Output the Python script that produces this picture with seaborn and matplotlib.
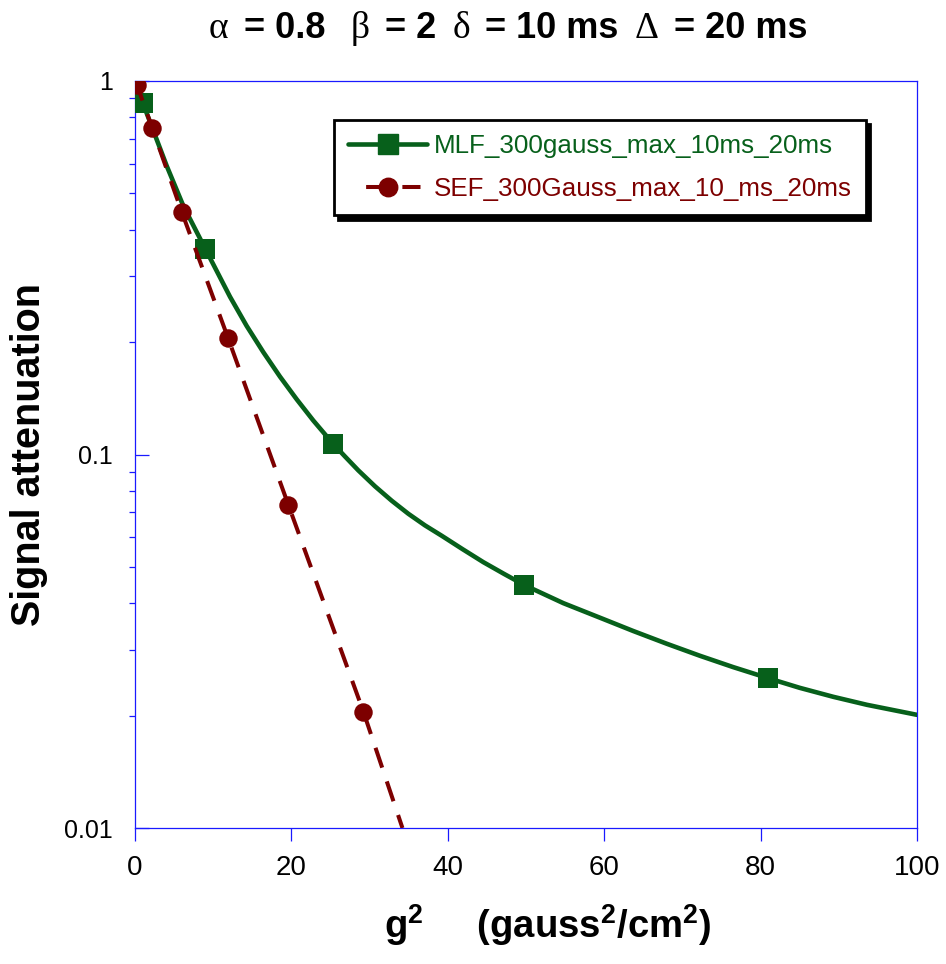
import matplotlib
matplotlib.use("Agg")
import matplotlib.pyplot as plt
import seaborn as sns
import pandas as pd
from matplotlib.lines import Line2D
from matplotlib.ticker import FixedLocator, FixedFormatter, LogLocator, NullFormatter
from matplotlib.offsetbox import TextArea, HPacker, AnchoredOffsetbox

# Mittag-Leffler (MLF) attenuation curve, sampled along g^2
mlf_curve_g2 = [0, 1, 4.05, 6.18, 9, 12.15, 14.28, 16.41, 18.54, 20.68, 22.8,
                25.3, 26.85, 28.55, 30.69, 32.83, 34.95, 37.08, 39.22, 41.88,
                44.54, 47.19, 49.8, 54.77, 59.89, 63.72, 68.0, 72.25, 76.5,
                81.0, 85.0, 89.3, 93.6, 100]
mlf_curve_val = [1.0, 0.873, 0.5928, 0.4630, 0.355, 0.2644, 0.2209, 0.1879,
                 0.1616, 0.1405, 0.1233, 0.1070, 0.0988, 0.0907, 0.0822,
                 0.0752, 0.0694, 0.0646, 0.0606, 0.0558, 0.0515, 0.0479,
                 0.0447, 0.0400, 0.03626, 0.03368, 0.03114, 0.02891, 0.02696,
                 0.02517, 0.02373, 0.02245, 0.02137, 0.02009]
# MLF marked points
mlf_point_g2 = [1, 9, 25.3, 49.8, 81]
mlf_point_val = [0.873, 0.355, 0.1070, 0.0447, 0.02517]

# Stretched-exponential (SEF) attenuation curve
sef_curve_g2 = [0, 0.26, 2.2, 6.0, 11.9, 19.6, 29.2, 34.2]
sef_curve_val = [1.0, 0.976, 0.748, 0.445, 0.205, 0.0734, 0.0205, 0.01]
# SEF marked points
sef_point_g2 = [0.26, 2.2, 6.0, 11.9, 19.6, 29.2]
sef_point_val = [0.976, 0.748, 0.445, 0.205, 0.0734, 0.0205]

series_labels = ["MLF_300gauss_max_10ms_20ms", "SEF_300Gauss_max_10_ms_20ms"]
x_ticks = [0, 20, 40, 60, 80, 100]
y_ticks = [0.01, 0.1, 1]
y_tick_labels = ["0.01", "0.1", "1"]

GREEN = "#07601b"
MAROON = "#7d0000"
BLUE = "#1a1aff"

sns.set_theme(style="white")
plt.rcParams["font.family"] = ["Liberation Sans", "DejaVu Sans"]
plt.rcParams["mathtext.fontset"] = "custom"
plt.rcParams["mathtext.rm"] = "Liberation Sans"
plt.rcParams["mathtext.bf"] = "Liberation Sans:bold"

fig = plt.figure(figsize=(9.46, 9.64), dpi=100)
ax = fig.add_axes([135 / 946, 1 - 828 / 964, (917 - 135) / 946, (828 - 81) / 964])

mlf_df = pd.DataFrame({"g2": mlf_curve_g2, "S": mlf_curve_val})
sef_df = pd.DataFrame({"g2": sef_curve_g2, "S": sef_curve_val})
mlf_pts = pd.DataFrame({"g2": mlf_point_g2, "S": mlf_point_val})
sef_pts = pd.DataFrame({"g2": sef_point_g2, "S": sef_point_val})

sns.lineplot(data=mlf_df, x="g2", y="S", ax=ax, color=GREEN, lw=3.3,
             errorbar=None, zorder=3)
sns.scatterplot(data=mlf_pts, x="g2", y="S", ax=ax, color=GREEN, marker="s",
                s=14 ** 2, linewidth=0, zorder=4)
sns.lineplot(data=sef_df, x="g2", y="S", ax=ax, color=MAROON, lw=2.9,
             linestyle=(0, (5.2, 3.6)), errorbar=None, zorder=5)
sns.scatterplot(data=sef_pts, x="g2", y="S", ax=ax, color=MAROON, marker="o",
                s=13.3 ** 2, linewidth=0, zorder=6)

ax.set_yscale("log")
ax.set_xlim(0, 100)
ax.set_ylim(0.01, 1)

ax.xaxis.set_major_locator(FixedLocator(x_ticks))
ax.yaxis.set_major_locator(FixedLocator(y_ticks))
ax.yaxis.set_major_formatter(FixedFormatter(y_tick_labels))
ax.yaxis.set_minor_locator(LogLocator(base=10, subs=range(2, 10)))
ax.yaxis.set_minor_formatter(NullFormatter())

for sp in ax.spines.values():
    sp.set_color(BLUE)
    sp.set_linewidth(0.9)

ax.tick_params(axis="x", which="major", direction="out", length=9.5, width=0.9,
               color=BLUE, labelsize=20, pad=10, labelcolor="black", bottom=True)
ax.tick_params(axis="y", which="major", direction="in", length=10, width=0.9,
               color=BLUE, labelsize=18, pad=16, labelcolor="black", left=True)
ax.tick_params(axis="y", which="minor", direction="out", length=4.5, width=0.9,
               color=BLUE, left=True)

ax.set_ylabel("Signal attenuation", fontsize=28.5, fontweight="bold", color="black")
ax.yaxis.set_label_coords(-0.111, 0.5)
ax.set_xlabel(r"g$^{\mathbf{2}}$     (gauss$^{\mathbf{2}}$/cm$^{\mathbf{2}}$)",
              fontsize=27.5, fontweight="bold", color="black")
ax.xaxis.set_label_coords(0.528, -0.100)

handles = [
    Line2D([], [], color=GREEN, lw=3.3, marker="s", markersize=14),
    Line2D([], [], color=MAROON, lw=2.9, marker="o", markersize=13.3,
           linestyle=(4.5, (4.5, 4.5))),
]
leg = ax.legend(handles, series_labels, loc="upper right",
                bbox_to_anchor=(0.935, 0.948), borderaxespad=0,
                fontsize=18.7, labelcolor="linecolor", frameon=True,
                fancybox=False, edgecolor="black", framealpha=1,
                shadow={"color": "black", "alpha": 1, "ox": 3, "oy": -3},
                handlelength=3.05, handletextpad=0.25, labelspacing=0.73,
                borderpad=0.55)
leg.get_frame().set_linewidth(2.0)

# Title built from mixed fonts: serif Greek symbols, bold sans text
pieces = [("α", True), (" = 0.8  ", False), ("β", True), (" = 2 ", False),
          ("δ", True), (" = 10 ms ", False), ("Δ", True), (" = 20 ms", False)]
areas = []
for txt, greek in pieces:
    if greek:
        props = dict(family="Liberation Serif", size=27, color="black")
    else:
        props = dict(family="Liberation Sans", weight="bold", size=26,
                     color="black")
    areas.append(TextArea(txt, textprops=props))
title_box = HPacker(children=areas, align="baseline", pad=0, sep=4)
anchored = AnchoredOffsetbox(loc="center", child=title_box, pad=0, borderpad=0,
                             frameon=False, bbox_to_anchor=(508 / 946, 1 - 29 / 964),
                             bbox_transform=fig.transFigure)
fig.add_artist(anchored)

fig.savefig("out.png", dpi=100, facecolor="white")
